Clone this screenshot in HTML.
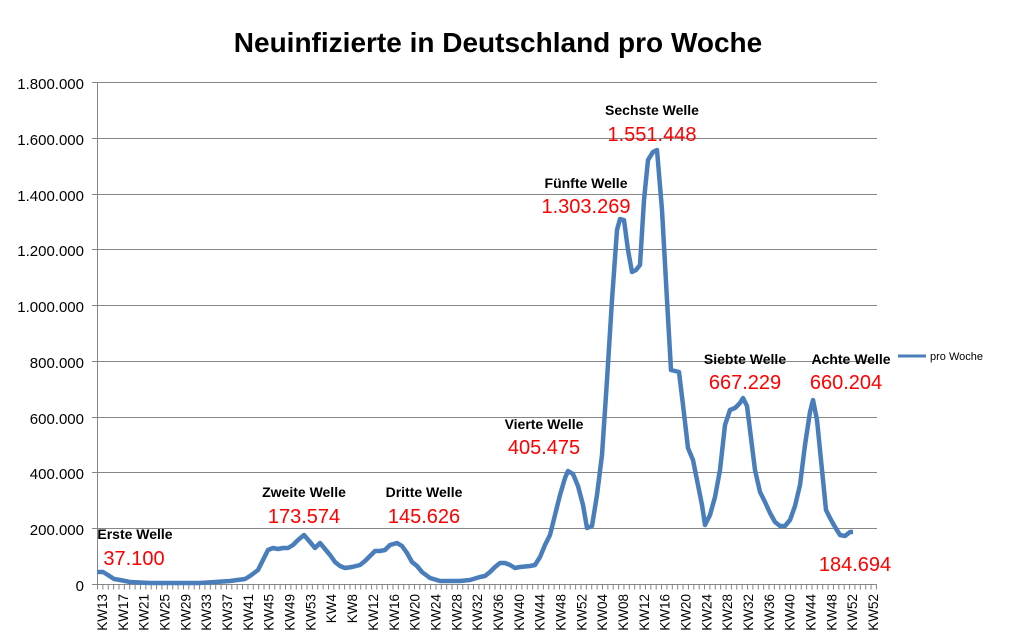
<!DOCTYPE html>
<html><head><meta charset="utf-8"><style>body{margin:0;background:#fff}svg{display:block}</style></head><body>
<svg width="1009" height="640" xmlns="http://www.w3.org/2000/svg" font-family="Liberation Sans, sans-serif">
<rect width="1009" height="640" fill="#fff"/>
<text x="498" y="52" text-anchor="middle" font-size="28" font-weight="bold">Neuinfizierte in Deutschland pro Woche</text>
<g stroke="#868686" stroke-width="1">
<line x1="92" y1="82.5" x2="877" y2="82.5"/><line x1="92" y1="138.5" x2="877" y2="138.5"/><line x1="92" y1="194.5" x2="877" y2="194.5"/><line x1="92" y1="249.5" x2="877" y2="249.5"/><line x1="92" y1="305.5" x2="877" y2="305.5"/><line x1="92" y1="361.5" x2="877" y2="361.5"/><line x1="92" y1="417.5" x2="877" y2="417.5"/><line x1="92" y1="472.5" x2="877" y2="472.5"/><line x1="92" y1="528.5" x2="877" y2="528.5"/><line x1="92" y1="584.5" x2="877" y2="584.5"/>
<line x1="97.5" y1="82" x2="97.5" y2="584"/>
</g>
<line x1="97" y1="587" x2="878" y2="587" stroke="#868686" stroke-width="5" stroke-dasharray="1 4.372"/>
<g font-size="15" text-anchor="end">
<text x="84" y="89">1.800.000</text><text x="84" y="145">1.600.000</text><text x="84" y="201">1.400.000</text><text x="84" y="256">1.200.000</text><text x="84" y="312">1.000.000</text><text x="84" y="368">800.000</text><text x="84" y="424">600.000</text><text x="84" y="479">400.000</text><text x="84" y="535">200.000</text><text x="84" y="591">0</text>
</g>
<g font-size="13.5" text-anchor="end">
<text transform="translate(107.0,594) rotate(-90)">KW13</text>
<text transform="translate(127.8,594) rotate(-90)">KW17</text>
<text transform="translate(148.7,594) rotate(-90)">KW21</text>
<text transform="translate(169.5,594) rotate(-90)">KW25</text>
<text transform="translate(190.4,594) rotate(-90)">KW29</text>
<text transform="translate(211.2,594) rotate(-90)">KW33</text>
<text transform="translate(232.0,594) rotate(-90)">KW37</text>
<text transform="translate(252.9,594) rotate(-90)">KW41</text>
<text transform="translate(273.7,594) rotate(-90)">KW45</text>
<text transform="translate(294.6,594) rotate(-90)">KW49</text>
<text transform="translate(315.4,594) rotate(-90)">KW53</text>
<text transform="translate(336.2,594) rotate(-90)">KW4</text>
<text transform="translate(357.1,594) rotate(-90)">KW8</text>
<text transform="translate(377.9,594) rotate(-90)">KW12</text>
<text transform="translate(398.8,594) rotate(-90)">KW16</text>
<text transform="translate(419.6,594) rotate(-90)">KW20</text>
<text transform="translate(440.4,594) rotate(-90)">KW24</text>
<text transform="translate(461.3,594) rotate(-90)">KW28</text>
<text transform="translate(482.1,594) rotate(-90)">KW32</text>
<text transform="translate(503.0,594) rotate(-90)">KW36</text>
<text transform="translate(523.8,594) rotate(-90)">KW40</text>
<text transform="translate(544.6,594) rotate(-90)">KW44</text>
<text transform="translate(565.5,594) rotate(-90)">KW48</text>
<text transform="translate(586.3,594) rotate(-90)">KW52</text>
<text transform="translate(607.2,594) rotate(-90)">KW04</text>
<text transform="translate(628.0,594) rotate(-90)">KW08</text>
<text transform="translate(648.8,594) rotate(-90)">KW12</text>
<text transform="translate(669.7,594) rotate(-90)">KW16</text>
<text transform="translate(690.5,594) rotate(-90)">KW20</text>
<text transform="translate(711.4,594) rotate(-90)">KW24</text>
<text transform="translate(732.2,594) rotate(-90)">KW28</text>
<text transform="translate(753.0,594) rotate(-90)">KW32</text>
<text transform="translate(773.9,594) rotate(-90)">KW36</text>
<text transform="translate(794.7,594) rotate(-90)">KW40</text>
<text transform="translate(815.6,594) rotate(-90)">KW44</text>
<text transform="translate(836.4,594) rotate(-90)">KW48</text>
<text transform="translate(857.2,594) rotate(-90)">KW52</text>
<text transform="translate(878.0,594) rotate(-90)">KW52</text>
</g>
<polyline fill="none" stroke="#4a7ebb" stroke-width="4.5" stroke-linejoin="round" points="97,572 103,572 108,575 114,579 120,580 130,582 150,583 200,583 230,581 245,579 250,576 258,570 263,560 268,550 273,548 278,549 283,548 288,548 293,545 298,540 304,535 310,542 315,548 320,543 325,549 330,555 335,562 340,566 345,568 352,567 360,565 365,561 370,556 375,551 380,551 385,550 390,545 397,543 402,546 407,553 412,562 417,566 422,572 430,578 440,581 460,581 470,580 480,577 485,576 490,572 495,567 500,563 505,563 510,565 515,568 520,567 530,566 535,565 540,557 545,545 550,535 555,515 560,495 565,478 568,471 573,474 578,486 583,505 587,528 592,526 597,495 602,455 607,380 612,300 617,230 620,219 624,220 628,250 632,272 636,270 640,265 644,200 648,160 653,152 657,150 662,210 667,300 671,370 675,371 679,372 683,405 688,448 693,460 697,480 702,505 705,525 710,515 715,497 720,470 725,425 730,410 735,408 740,403 743,398 747,406 750,430 755,470 760,492 765,502 770,513 775,522 780,526 785,526 790,520 795,506 800,485 805,445 810,412 813,400 817,420 822,470 826,510 830,518 835,527 840,535 845,536 850,532 853,532"/>
<line x1="898" y1="356" x2="926" y2="356" stroke="#4a7ebb" stroke-width="3"/>
<text x="930" y="360" font-size="11">pro Woche</text>
<g font-size="14" font-weight="bold" text-anchor="middle">
<text x="135" y="539">Erste Welle</text><text x="304" y="497">Zweite Welle</text><text x="424" y="497">Dritte Welle</text><text x="544" y="429">Vierte Welle</text><text x="586" y="188">Fünfte Welle</text><text x="652" y="115">Sechste Welle</text><text x="745" y="364">Siebte Welle</text><text x="851" y="364">Achte Welle</text>
</g>
<g font-size="20" fill="#ff0000" text-anchor="middle">
<text x="134" y="565">37.100</text><text x="304" y="523">173.574</text><text x="424" y="523">145.626</text><text x="544" y="454">405.475</text><text x="586" y="213">1.303.269</text><text x="652" y="141">1.551.448</text><text x="745" y="389">667.229</text><text x="846" y="389">660.204</text><text x="855" y="571">184.694</text>
</g>
</svg>
</body></html>
